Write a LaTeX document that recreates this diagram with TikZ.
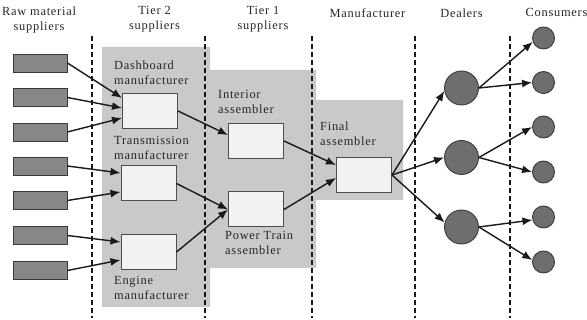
\documentclass[tikz,border=0pt]{standalone}
\usepackage{fontspec}
\setmainfont{Liberation Serif}[LetterSpace=6]
\usepackage{tikz}
\usetikzlibrary{arrows.meta}
\definecolor{tiergray}{HTML}{C9C9C9}
\definecolor{rawgray}{HTML}{878787}
\definecolor{dotgray}{HTML}{6E6E6E}
\definecolor{boxfill}{HTML}{F2F2F2}
\definecolor{edge}{HTML}{3A3A3A}
\tikzstyle{every node}=[font=\fontsize{12.4}{15}\selectfont, text=black!85]

\begin{document}
\begin{tikzpicture}[x=1pt,y=-1pt]

  \useasboundingbox (0,0) rectangle (587,320);

  \tikzset{raw/.style={draw=edge, fill=rawgray, line width=0.9pt, minimum width=54pt, minimum height=18pt, inner sep=0pt}}
  \tikzset{part/.style={draw=edge!90, fill=boxfill, line width=1pt, minimum width=55pt, minimum height=35pt, inner sep=0pt}}
  \tikzset{dealer/.style={draw=edge, fill=dotgray, line width=0.9pt, circle, minimum size=34pt, inner sep=0pt}}
  \tikzset{buyer/.style={draw=edge, fill=dotgray, line width=0.9pt, circle, minimum size=22pt, inner sep=0pt}}
  \tikzset{flow/.style={-{Latex[length=10pt,width=8pt]}, line width=1.4pt, draw=black!90}}
  \tikzset{divider/.style={dashed, dash pattern=on 5pt off 3pt, line width=1.2pt, draw=black!90}}
  \tikzset{head/.style={anchor=north, align=center, inner sep=0pt}}
  \tikzset{tag/.style={anchor=north west, align=left, inner sep=0pt}}

% shaded tiers
\fill[tiergray] (102,47) -| (210,70) -| (316,100) -| (403,200) -| (316,268) -| (210,307) -| (102,47) -- cycle;

% column separators
\foreach \x in {92,205,312,415,510}
  \draw[divider] (\x,36) -- (\x,318);

% headings
\node[head] (hraw) at (39,6.5) {Raw material\\suppliers};
\node[head] (htwo) at (154.5,6) {Tier 2\\suppliers};
\node[head] (hone) at (263,6) {Tier 1\\suppliers};
\node[head] (hman) at (367.5,8.5) {Manufacturer};
\node[head] (hdeal) at (461.5,8.5) {Dealers};
\node[head] (hcons) at (556.5,8.5) {Consumers};

% raw material suppliers
\foreach \y [count=\i] in {63,97.5,132,166,200.5,235.5,270.5}
  \node[raw] (r\i) at (40,\y) {};

% tier 2, tier 1 and final assembly
\node[part] (dash) at (150,111) {};
\node[part] (trans) at (148.5,183.5) {};
\node[part] (eng) at (148.5,252) {};
\node[part] (inter) at (256,141) {};
\node[part] (power) at (256,209.5) {};
\node[part] (final) at (364,175) {};

\node[tag] (ldash) at (114,60.5) {Dashboard\\manufacturer};
\node[tag] (ltrans) at (114,136) {Transmission\\manufacturer};
\node[tag] (leng) at (114,276) {Engine\\manufacturer};
\node[tag] (linter) at (218,90) {Interior\\assembler};
\node[tag] (lpower) at (225,231) {Power Train\\assembler};
\node[tag] (lfinal) at (320,121.5) {Final\\assembler};

% dealers and consumers
\node[dealer] (d1) at (461.5,88) {};
\node[dealer] (d2) at (461.5,157.5) {};
\node[dealer] (d3) at (461.5,227) {};

\foreach \y [count=\i] in {38,82.5,127,172,217,262}
  \node[buyer] (c\i) at (543.5,\y) {};

% deliveries
\draw[flow] (r1.east) -- ([yshift=13pt]dash.west);
\draw[flow] (r2.east) -- ([yshift=3pt]dash.west);
\draw[flow] (r3.east) -- ([yshift=-7pt]dash.west);
\draw[flow] (r4.east) -- ([yshift=10.5pt]trans.west);
\draw[flow] (r5.east) -- ([yshift=-8.5pt]trans.west);
\draw[flow] (r6.east) -- ([yshift=10pt]eng.west);
\draw[flow] (r7.east) -- ([yshift=-8pt]eng.west);

\draw[flow] (dash.east) -- ([yshift=6pt]inter.west);
\draw[flow] (trans.east) -- (power.west);
\draw[flow] (eng.east) -- (power.west);

\draw[flow] (inter.east) -- ([yshift=10pt]final.west);
\draw[flow] (power.east) -- ([yshift=-3pt]final.west);

\draw[flow] (final.east) -- (d1.190);
\draw[flow] (final.east) -- (d2.west);
\draw[flow] (final.east) -- (d3.165);

\draw[flow] (d1.east) -- (c1.200);
\draw[flow] (d1.east) -- (c2.west);
\draw[flow] (d2.east) -- (c3.west);
\draw[flow] (d2.east) -- (c4.west);
\draw[flow] (d3.east) -- (c5.195);
\draw[flow] (d3.east) -- (c6.170);

\end{tikzpicture}
\end{document}
